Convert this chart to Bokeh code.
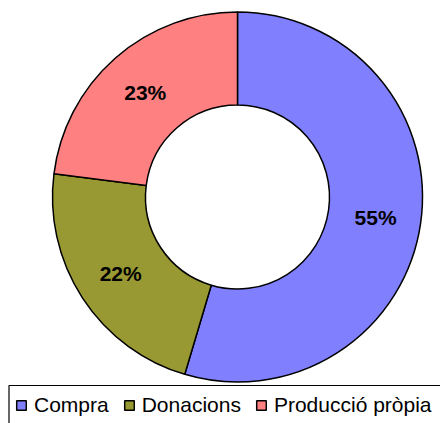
import math
from bokeh.plotting import figure
from bokeh.models import Range1d, Legend, LegendItem, ColumnDataSource
from bokeh.core.properties import value
from bokeh.embed import file_html
from bokeh.resources import INLINE

categories = ["Compra", "Donacions", "Producció pròpia"]
values = [54.6, 22.4, 23.0]
colors = ["#8080FF", "#999933", "#FF8080"]

W, H = 440, 423
p = figure(width=W, height=H, output_backend="svg", toolbar_location=None,
           x_range=Range1d(0, W), y_range=Range1d(0, H), min_border=0,
           x_axis_location=None, y_axis_location=None)
p.grid.visible = False
p.outline_line_color = None
p.background_fill_color = "white"
p.border_fill_color = "white"

cx, cy = 237, 226.5
r_out, r_in = 185, 92

total = sum(values)
starts, ends, lx, ly, labels = [], [], [], [], []
acc = 0.0
for v in values:
    a0 = math.pi / 2 - 2 * math.pi * acc / total
    acc += v
    a1 = math.pi / 2 - 2 * math.pi * acc / total
    starts.append(a0)
    ends.append(a1)
    mid = (a0 + a1) / 2
    rm = (r_out + r_in) / 2 + 1
    lx.append(cx + rm * math.cos(mid))
    ly.append(cy + rm * math.sin(mid))
    labels.append(f"{int(100 * v / total + 0.5)}%")

# legend frame (extends beyond the visible area)
p.quad(left=[8.5], right=[W + 50], top=[38], bottom=[-50],
       fill_color=None, line_color="black", line_width=1.2)

renderers = []
for i, cat in enumerate(categories):
    r = p.annular_wedge(x=cx, y=cy, inner_radius=r_in, outer_radius=r_out,
                        start_angle=starts[i], end_angle=ends[i], direction="clock",
                        fill_color=colors[i], line_color="black", line_width=1.5)
    renderers.append(r)

src = ColumnDataSource(dict(x=lx, y=ly, t=labels))
p.text(x="x", y="y", text="t", source=src, text_align="center", text_baseline="middle",
       text_font=value("Liberation Sans"), text_font_style="bold",
       text_font_size="21px", text_color="black")

legend = Legend(items=[LegendItem(label=c, renderers=[r]) for c, r in zip(categories, renderers)],
                orientation="horizontal", location=(15, 6))
legend.margin = 0
legend.padding = 0
legend.spacing = 14
legend.label_standoff = 7
legend.glyph_width = 12
legend.glyph_height = 12
legend.label_text_font = "Liberation Sans"
legend.label_text_font_size = "21px"
legend.label_text_color = "black"
legend.border_line_color = None
legend.background_fill_alpha = 0
p.add_layout(legend)

open("out.html", "w").write(file_html(p, INLINE))
